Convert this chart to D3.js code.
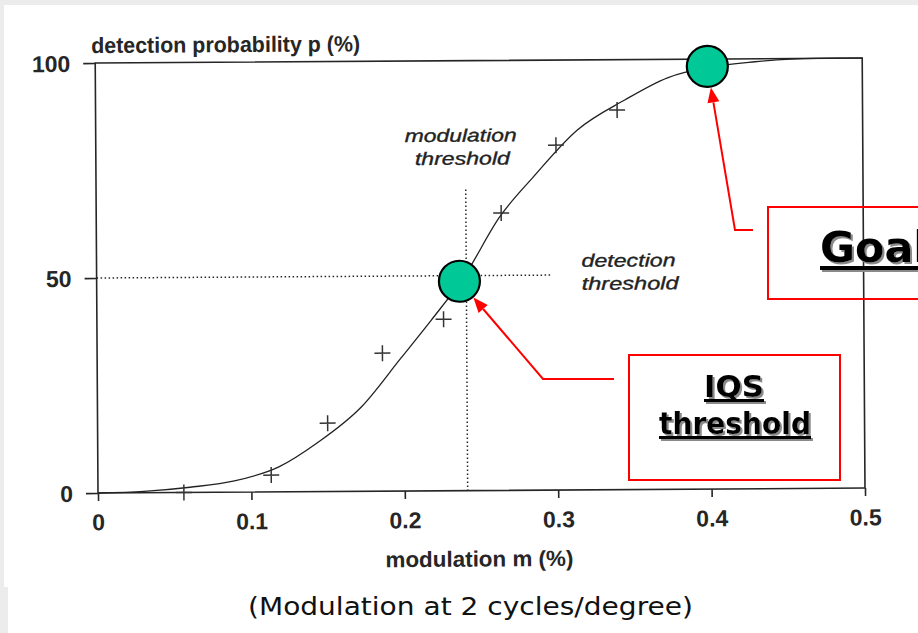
<!DOCTYPE html>
<html><head><meta charset="utf-8">
<script src="https://cdn.jsdelivr.net/npm/d3@7"></script>
<style>
html,body{margin:0;padding:0;background:#ececec;}
svg{display:block;}
</style></head>
<body>
<svg id="chart" width="918" height="633"></svg>
<script>
// ---- data ----
const xTicks = [0, 0.1, 0.2, 0.3, 0.4, 0.5];
const xTickLabels = ["0", "0.1", "0.2", "0.3", "0.4", "0.5"];
const yTicks = [0, 50, 100];
const yTickLabels = ["0", "50", "100"];
const curveM = [0, 0.03, 0.06, 0.089, 0.118, 0.143, 0.172, 0.198, 0.218, 0.24, 0.263, 0.285, 0.314, 0.345, 0.373, 0.4, 0.43, 0.47, 0.5];
const curveP = [0, 0.3, 1.2, 2.6, 5.8, 11.3, 19.6, 30.9, 39.7, 50, 63.6, 72.8, 83.7, 90.6, 95.7, 98.1, 99.3, 100, 100];
const obsM = [0.056, 0.113, 0.150, 0.186, 0.226, 0.264, 0.300, 0.340];
const obsP = [0, 3.9, 15.9, 32.1, 39.9, 64.5, 80.2, 88.3];
const thresholdM = 0.241, thresholdP = 50;          // dotted threshold lines
const iqsMarkM = 0.2365, iqsMarkP = 48.7;           // green marker "IQS threshold"
const goalMarkM = 0.399, goalMarkP = 98.3;          // green marker "Goal"
const vLineTopP = 70, hLineRightM = 0.296;

// ---- layout ----
const svg = d3.select("#chart");
const ROT = -0.37, OX = 98, OY = 493;
const x = d3.scaleLinear().domain([0, 0.5]).range([98, 865]);
const y = d3.scaleLinear().domain([0, 100]).range([493, 63]);
function toScreen(px, py) {
  const a = ROT * Math.PI / 180, dx = px - OX, dy = py - OY;
  return [OX + dx * Math.cos(a) - dy * Math.sin(a), OY + dx * Math.sin(a) + dy * Math.cos(a)];
}
const FONT = "'Liberation Sans', Arial, sans-serif";
const TAHOMA = "'DejaVu Sans', Verdana, sans-serif";
const ink = "#262626";

// shadow filter for callout text
const defs = svg.append("defs");
const f = defs.append("filter").attr("id", "shadow").attr("x", "-10%").attr("y", "-10%").attr("width", "130%").attr("height", "140%");
f.append("feDropShadow").attr("dx", 2).attr("dy", 2).attr("stdDeviation", 0.6).attr("flood-color", "#8a8a8a").attr("flood-opacity", 1);

// background
svg.append("rect").attr("x", 0).attr("y", 0).attr("width", 918).attr("height", 633).attr("fill", "#ececec");
svg.append("rect").attr("x", 4).attr("y", 5).attr("width", 914).attr("height", 582).attr("fill", "#fff");
svg.append("rect").attr("x", 8).attr("y", 587).attr("width", 910).attr("height", 46).attr("fill", "#fff");

const g = svg.append("g").attr("transform", `rotate(${ROT},${OX},${OY})`);

// frame
g.append("rect").attr("x", x(0)).attr("y", y(100)).attr("width", x(0.5) - x(0)).attr("height", y(0) - y(100))
  .attr("fill", "none").attr("stroke", ink).attr("stroke-width", 1.6);

// axes
const xa = g.append("g").attr("transform", `translate(0,${y(0)})`)
  .call(d3.axisBottom(x).tickValues(xTicks).tickFormat((d, i) => xTickLabels[i]).tickSize(8).tickPadding(13));
const ya = g.append("g").attr("transform", `translate(${x(0)},0)`)
  .call(d3.axisLeft(y).tickValues(yTicks).tickFormat((d, i) => yTickLabels[i]).tickSize(12).tickPadding(13));
[xa, ya].forEach(a => {
  a.select(".domain").remove();
  a.selectAll("line").attr("stroke", ink).attr("stroke-width", 1.6);
  a.selectAll("text").attr("fill", ink).style("font-family", FONT).style("font-size", "23px").style("font-weight", "bold");
});
ya.selectAll("text").attr("dy", "0.36em");

// axis titles
g.append("text").attr("x", 94).attr("y", 53).text("detection probability p (%)")
  .attr("fill", ink).style("font-family", FONT).style("font-size", "22px").style("font-weight", "bold")
  .attr("textLength", 269).attr("lengthAdjust", "spacingAndGlyphs");
g.append("text").attr("x", 385).attr("y", 569).text("modulation m (%)")
  .attr("fill", ink).style("font-family", FONT).style("font-size", "22px").style("font-weight", "bold")
  .attr("textLength", 188).attr("lengthAdjust", "spacingAndGlyphs");

// dotted threshold lines
g.append("line").attr("x1", x(0)).attr("x2", x(hLineRightM)).attr("y1", y(thresholdP)).attr("y2", y(thresholdP))
  .attr("stroke", ink).attr("stroke-width", 1.5).attr("stroke-dasharray", "1.5,2.5");
g.append("line").attr("x1", x(thresholdM)).attr("x2", x(thresholdM)).attr("y1", y(vLineTopP)).attr("y2", y(0))
  .attr("stroke", ink).attr("stroke-width", 1.5).attr("stroke-dasharray", "1.5,2.5");

// italic labels
const itl = [["modulation", 407, 144, 112], ["threshold", 417, 167, 95], ["detection", 583, 270, 94], ["threshold", 583, 293, 97]];
itl.forEach(t => g.append("text").attr("x", t[1]).attr("y", t[2]).text(t[0])
  .attr("fill", "#222").attr("stroke", "#222").attr("stroke-width", 0.35)
  .style("font-family", FONT).style("font-size", "18px").style("font-style", "italic")
  .attr("textLength", t[3]).attr("lengthAdjust", "spacingAndGlyphs"));

// curve
const curveData = curveM.map((m, i) => [m, curveP[i]]);
g.append("path").datum(curveData)
  .attr("d", d3.line().x(d => x(d[0])).y(d => y(d[1])).curve(d3.curveMonotoneX))
  .attr("fill", "none").attr("stroke", "#222").attr("stroke-width", 1.3);

// observations (+)
const cs = 8;
obsM.forEach((m, i) => {
  const cx = x(m), cy = y(obsP[i]);
  g.append("path").attr("d", `M${cx - cs},${cy}H${cx + cs}M${cx},${cy - cs}V${cy + cs}`)
    .attr("stroke", "#333").attr("stroke-width", 1.5).attr("fill", "none");
});

// green markers
const R = 20.5;
[[iqsMarkM, iqsMarkP], [goalMarkM, goalMarkP]].forEach(d => {
  g.append("circle").attr("cx", x(d[0])).attr("cy", y(d[1])).attr("r", R)
    .attr("fill", "#00c896").attr("stroke", "#000").attr("stroke-width", 2.2);
});

// ---- callouts ----
const red = "#ff0000";
function arrow(points, centerPx) {
  const c = toScreen(centerPx[0], centerPx[1]);
  const elbow = points[points.length - 1];
  const dx = elbow[0] - c[0], dy = elbow[1] - c[1], L = Math.hypot(dx, dy);
  const ux = dx / L, uy = dy / L;
  const tip = [c[0] + ux * (R + 1), c[1] + uy * (R + 1)];
  const hl = 15, hw = 6;
  const base = [tip[0] + ux * hl, tip[1] + uy * hl];
  svg.append("polyline").attr("points", points.concat([base]).map(p => p.join(",")).join(" "))
    .attr("fill", "none").attr("stroke", red).attr("stroke-width", 2);
  svg.append("polygon").attr("points", [tip, [base[0] - uy * hw, base[1] + ux * hw], [base[0] + uy * hw, base[1] - ux * hw]].map(p => p.join(",")).join(" "))
    .attr("fill", red);
}
function boldText(str, xx, yy, size, len, ulY, ulW) {
  const t = svg.append("g").attr("filter", "url(#shadow)");
  t.append("text").attr("x", xx).attr("y", yy).text(str)
    .attr("fill", "#000").style("font-family", TAHOMA).style("font-size", size + "px").style("font-weight", "bold")
    .attr("textLength", len).attr("lengthAdjust", "spacingAndGlyphs");
  t.append("rect").attr("x", xx).attr("y", ulY).attr("width", len).attr("height", ulW).attr("fill", "#000");
}

// IQS threshold
svg.append("rect").attr("x", 629).attr("y", 355).attr("width", 211).attr("height", 125)
  .attr("fill", "#fff").attr("stroke", red).attr("stroke-width", 2);
boldText("IQS", 704, 397, 30, 60, 399, 3);
boldText("threshold", 659, 434, 30, 152, 436, 3);
arrow([[614, 379], [543, 379]], [x(iqsMarkM), y(iqsMarkP)]);

// Goal
svg.append("rect").attr("x", 768).attr("y", 207).attr("width", 200).attr("height", 92)
  .attr("fill", "none").attr("stroke", red).attr("stroke-width", 2);
boldText("Goal", 820, 262, 42, 108, 266, 4);
arrow([[753, 230], [735, 230]], [x(goalMarkM), y(goalMarkP)]);

// caption
svg.append("text").attr("x", 248).attr("y", 615).text("(Modulation at 2 cycles/degree)")
  .attr("fill", "#111").style("font-family", TAHOMA).style("font-size", "25px")
  .attr("textLength", 445).attr("lengthAdjust", "spacingAndGlyphs");
</script>
</body></html>
